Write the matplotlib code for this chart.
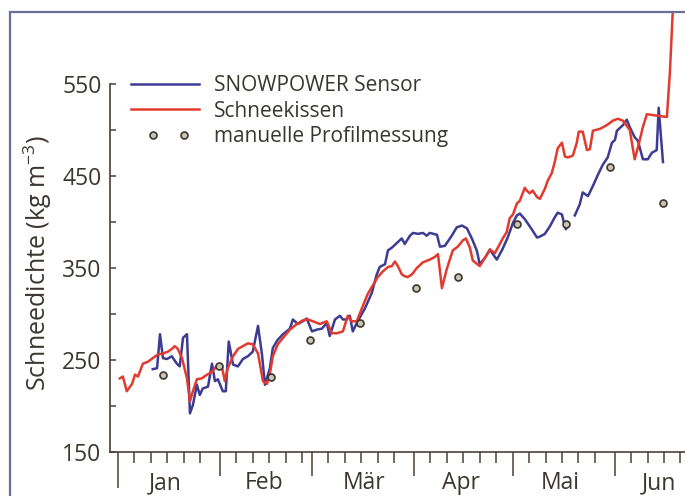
import matplotlib
matplotlib.use("Agg")
import matplotlib.pyplot as plt
from matplotlib.legend_handler import HandlerLine2D
from matplotlib.patches import Rectangle
import numpy as np

plt.rcParams['font.family'] = ['Open Sans', 'DejaVu Sans']
plt.rcParams['mathtext.default'] = 'regular'

# Days since 1 Jan and snow density (kg m-3)
sensor_day = [10.6, 11.9, 12.8, 13.7, 14.9, 16.4, 17.9, 18.8, 19.8, 21.0, 21.9, 22.8, 24.0, 24.9,
              25.8, 27.4, 28.6, 29.5, 30.4, 31.9, 32.8, 33.7, 35.0, 36.5, 38.0, 39.5, 41.0, 42.6,
              43.8, 44.7, 46.2, 47.1, 48.6, 50.2, 52.3, 53.2, 54.7, 56.2, 57.4, 59.0, 60.5, 62.0,
              63.5, 64.4, 66.0, 67.5, 68.4, 69.6, 70.5, 71.4, 72.9, 75.1, 77.2, 78.7, 79.6, 81.2,
              82.1, 83.3, 84.8, 86.3, 87.2, 88.8, 89.7, 91.2, 92.7, 93.9, 94.8, 97.0, 97.9, 99.4,
              101.5, 103.0, 104.6, 106.1, 107.6, 109.1, 110.0, 111.6, 113.1, 114.0, 115.2, 116.1,
              117.0, 118.5, 120.1, 121.3, 122.2, 123.7, 125.8, 127.4, 128.3, 129.8, 131.3, 132.8,
              133.7, 135.0, 135.6, 136.2, 136.8, 137.8, 138.9, 140.4, 141.3, 142.9, 144.4, 145.9,
              147.4, 148.9, 150.2, 151.1, 151.7, 152.6, 153.5, 154.7, 155.6, 157.1, 158.1, 159.6,
              161.1, 162.3, 163.8, 164.4, 165.7]
sensor_val = [240, 241, 278, 252, 251, 254, 246, 243, 274, 278, 192, 201, 223, 212,
              219, 221, 246, 227, 229, 216, 216, 270, 245, 243, 251, 254, 259, 287,
              256, 223, 241, 263, 272, 278, 284, 294, 289, 292, 295, 281, 283, 284,
              290, 276, 294, 298, 294, 294, 298, 281, 292, 306, 323, 343, 351, 354,
              369, 372, 377, 382, 376, 385, 388, 387, 388, 385, 388, 386, 373, 374,
              385, 394, 396, 393, 382, 369, 354, 361, 370, 365, 359, 365,
              371, 383, 399, 407, 409, 403, 392, 383, 384, 387, 395, 405,
              410, 408, 399, 392, 398, np.nan, 407, 419, 432, 428, 439, 451,
              462, 470, 486, 489, 499, 502, 505, 511, 503, 492, 488, 468,
              468, 475, 478, 524, 465]

pillow_day = [0.6, 1.5, 2.7, 4.3, 5.2, 6.1, 7.6, 9.1, 10.6, 12.2, 13.7, 15.2, 16.4, 17.3, 18.2,
              19.5, 21.0, 21.9, 22.8, 24.0, 25.5, 27.1, 28.6, 29.5, 30.4, 31.6, 32.5, 33.4, 35.0,
              36.5, 38.0, 39.5, 41.0, 42.6, 44.1, 45.3, 46.2, 47.1, 48.6, 50.2, 52.3, 54.4, 56.2,
              57.8, 59.3, 61.4, 63.5, 65.0, 66.6, 68.4, 69.9, 71.1, 72.6, 74.5, 76.0, 77.5, 79.0,
              80.5, 82.1, 83.3, 84.2, 85.1, 86.3, 87.2, 88.1, 89.4, 90.9, 92.7, 94.8, 96.4, 97.3,
              98.5, 100.0, 101.8, 103.3, 104.9, 105.8, 107.0, 107.9, 110.0, 111.6, 113.1, 114.6,
              116.1, 117.0, 118.2, 119.1, 120.1, 121.3, 122.2, 123.7, 124.3, 125.2, 126.1, 127.4,
              128.3, 129.8, 130.7, 131.9, 132.8, 133.7, 135.0, 135.9, 136.8, 138.3, 139.5, 140.1,
              141.3, 142.6, 143.5, 144.4, 146.5, 148.6, 150.5, 152.0, 153.5, 155.6, 157.1, 158.1,
              159.6, 160.8, 162.6, 164.7, 166.9, 167.8, 168.9]
pillow_val = [230, 232, 216, 224, 234, 232, 246, 248, 252, 256, 257, 259, 262, 265, 262,
              252, 230, 205, 216, 229, 230, 234, 237, 241, 245, 243, 227, 241, 254,
              262, 265, 268, 267, 257, 227, 224, 235, 254, 267, 274, 283, 289, 293,
              294, 292, 289, 292, 279, 279, 281, 298, 292, 292, 309, 322, 331, 340,
              346, 351, 352, 357, 352, 343, 341, 340, 343, 350, 356, 359, 362, 365,
              328, 349, 369, 373, 380, 382, 372, 358, 352, 361, 370, 366,
              376, 382, 389, 404, 408, 420, 423, 437, 434, 431, 434, 427,
              425, 436, 445, 453, 465, 480, 486, 471, 470, 472, 486, 498,
              498, 478, 479, 499, 501, 505, 510, 512, 510, 500, 468, 481,
              503, 517, 516, 515, 514, 562, 645]

profile_day = [13.7, 30.7, 46.5, 58.4, 73.6, 90.6, 103.3, 121.3, 136.2, 149.5, 165.7]
profile_val = [234, 243, 232, 272, 290, 328, 340, 398, 398, 460, 420]

month_start = [0, 31, 59, 90, 120, 151]
month_names = ['Jan', 'Feb', 'Mär', 'Apr', 'Mai', 'Jun']
month_label_day = [14.3, 44.4, 74.8, 104.3, 134.6, 164.5]

text_col = '#3b3631'
axis_col = '#4a4038'


# legend key with two dots placed inside the handle
class TwoDots(HandlerLine2D):
    def get_xdata(self, legend, xdescent, ydescent, width, height, fontsize):
        x = -xdescent + width * np.array([0.35, 0.74])
        return x, x


fig = plt.figure(figsize=(6.85, 4.96), dpi=100)
ax = fig.add_axes([110 / 685, 1 - 452 / 496, 1 - 110 / 685, 440 / 496])

# outer frame of the original figure box
fig.add_artist(Rectangle((10 / 685, -0.1), 2, 1.1 - 12 / 496, transform=fig.transFigure,
                         fill=False, edgecolor='#6a6e98', linewidth=1.6))

ax.plot(sensor_day, sensor_val, color='#3d3b92', lw=1.8, label='SNOWPOWER Sensor')
ax.plot(pillow_day, pillow_val, color='#e23a2e', lw=1.8, label='Schneekissen')
pts, = ax.plot(profile_day, profile_val, ls='none', marker='o', ms=5,
               mfc='#c9c5b2', mec='#3a3630', mew=1.2, label='manuelle Profilmessung')

for s in ['top', 'right']:
    ax.spines[s].set_visible(False)
ax.spines['left'].set_bounds(150, 550)
for s in ['left', 'bottom']:
    ax.spines[s].set_color(axis_col)
    ax.spines[s].set_linewidth(1.2)

# y axis: ticks inside
ax.set_yticks([150, 250, 350, 450, 550])
ax.set_yticks([200, 300, 400, 500], minor=True)
ax.tick_params(axis='y', which='both', direction='in', length=4, width=1.1,
               color=axis_col, labelsize=16.5, labelcolor=text_col, pad=6)

# x axis: month starts long, every 5 days short
minor = []
ends = month_start[1:] + [182]
for a, b in zip(month_start, ends):
    minor += [a + d for d in range(5, b - a - 2, 5)]
ax.set_xticks(month_start)
ax.set_xticklabels([])
ax.set_xticks(minor, minor=True)
ax.tick_params(axis='x', which='major', direction='out', length=17, width=1.1, color=axis_col)
ax.tick_params(axis='x', which='minor', direction='out', length=8, width=1.1, color=axis_col)
ax.get_xaxis().get_major_ticks()[0].tick1line.set_markersize(26)

# limits after the ticks, so the tick lists do not widen them
ax.set_xlim(-2.4, 172.4)
ax.set_ylim(150, 628)

for d, name in zip(month_label_day, month_names):
    ax.annotate(name, xy=(d, 0), xycoords=ax.get_xaxis_transform(), xytext=(0, -22.5),
                textcoords='offset points', ha='center', va='center', fontsize=16.5, color=text_col)

ax.set_ylabel('Schneedichte (kg m$^{-3}$)', fontsize=18, color=text_col, labelpad=6)
ax.yaxis.label.set_y(0.43)

leg = ax.legend(handles=ax.lines[:2] + [pts], loc='upper left', frameon=False, fontsize=15,
                numpoints=2, handlelength=3.85, handletextpad=0.4, labelspacing=0.22,
                borderpad=0, borderaxespad=0,
                bbox_to_anchor=(125 / 685, 1 - 75 / 496), bbox_transform=fig.transFigure,
                handler_map={pts: TwoDots()})
for t in leg.get_texts():
    t.set_color(text_col)

fig.savefig('out.png', dpi=100)
